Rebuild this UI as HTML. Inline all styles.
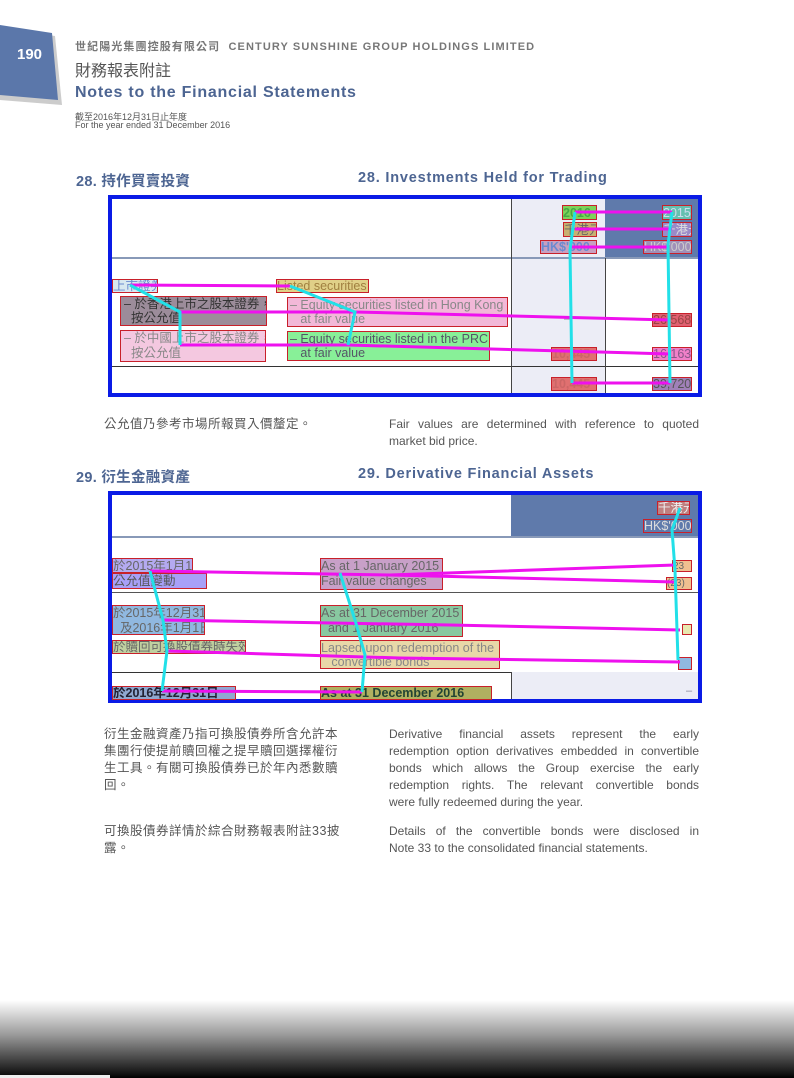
<!DOCTYPE html>
<html><head><meta charset="utf-8"><style>
body{margin:0;width:794px;height:1078px;position:relative;overflow:hidden;background:#fff;font-family:"Liberation Sans","Noto Sans CJK TC",sans-serif;}
.t{position:absolute;white-space:nowrap;}
.b{position:absolute;border:1px solid #c8202a;box-sizing:border-box;font-size:12.5px;line-height:15px;color:#666;white-space:nowrap;overflow:hidden;}
.h{font-weight:bold;color:#4d6592;font-size:14.5px;letter-spacing:0.3px;}
.p{position:absolute;font-size:12px;color:#555;line-height:17px;text-align:justify;text-align-last:justify;width:310px;white-space:nowrap;}
.q{position:absolute;font-size:12px;color:#555;line-height:17px;white-space:nowrap;}
.c{position:absolute;font-size:12.5px;color:#555;line-height:17px;letter-spacing:0.5px;}
</style></head><body>
<svg style="position:absolute;left:0;top:0" width="80" height="120">
<polygon points="0,28 55,36 62,105 0,100" fill="#999" opacity="0.5"/>
<polygon points="0,25 52,33 58,100 0,95" fill="#5b77aa"/>
</svg>
<div class="t" style="left:17px;top:46px;color:#fff;font-weight:bold;font-size:15px">190</div>
<div class="t" style="left:75px;top:38px;font-size:11px;color:#777;font-weight:bold;letter-spacing:1.1px">世紀陽光集團控股有限公司&nbsp; CENTURY SUNSHINE GROUP HOLDINGS LIMITED</div>
<div class="t" style="left:75px;top:62px;font-size:16px;color:#555;line-height:20px">財務報表附註</div>
<div class="t" style="left:75px;top:84px;font-size:16px;color:#4d6592;font-weight:bold;letter-spacing:0.75px">Notes to the Financial Statements</div>
<div class="t" style="left:75px;top:110px;font-size:9px;color:#555">截至2016年12月31日止年度</div>
<div class="t" style="left:75px;top:120px;font-size:9px;color:#555">For the year ended 31 December 2016</div>

<div class="t h" style="left:76px;top:170px">28. 持作買賣投資</div>
<div class="t h" style="left:358px;top:170px;letter-spacing:0.8px">28. Investments Held for Trading</div>

<div style="position:absolute;left:511px;top:197px;width:94px;height:198px;background:#ecedf6"></div>
<div style="position:absolute;left:605px;top:197px;width:95px;height:61px;background:#5f7aab"></div>
<div style="position:absolute;left:110px;top:257px;width:590px;height:2px;background:#8899b8"></div>
<div style="position:absolute;left:110px;top:366px;width:590px;height:1px;background:#333"></div>
<div style="position:absolute;left:511px;top:197px;width:1px;height:198px;background:#444"></div>
<div style="position:absolute;left:605px;top:258px;width:1px;height:137px;background:#444"></div>
<div style="position:absolute;left:108px;top:195px;width:594px;height:202px;border:4px solid #0a1be6;box-sizing:border-box"></div>

<div class="b" style="left:562px;top:205px;width:35px;height:15px;background:#7ed25a;color:#4a4;font-weight:bold">2016</div>
<div class="b" style="left:662px;top:205px;width:30px;height:15px;background:#66c0b0;color:#cde">2015</div>
<div class="b" style="left:563px;top:222px;width:34px;height:15px;background:#c8b070">千港元</div>
<div class="b" style="left:662px;top:222px;width:30px;height:15px;background:#9a8ac8;color:#ddd">千港元</div>
<div class="b" style="left:540px;top:240px;width:57px;height:14px;background:#c8a0c0;color:#6a8ad0;font-weight:bold;line-height:13px">HK$'000</div>
<div class="b" style="left:643px;top:240px;width:49px;height:14px;background:#a090b8;color:#ccc;line-height:13px">HK$'000</div>
<div class="b" style="left:112px;top:279px;width:46px;height:14px;background:#d8e8f0;color:#6a8ad0;line-height:13px">上市證券</div>
<div class="b" style="left:276px;top:279px;width:93px;height:14px;background:#e0d088;color:#a08040;line-height:13px">Listed securities</div>
<div class="b" style="left:120px;top:296px;width:147px;height:30px;background:#9c8c9a;color:#333;padding-left:3px;line-height:14px">– 於香港上市之股本證券，<br>&nbsp;&nbsp;按公允值</div>
<div class="b" style="left:287px;top:297px;width:221px;height:30px;background:#f2b8d8;color:#888;padding-left:2px;line-height:14px">– Equity securities listed in Hong Kong<br>&nbsp;&nbsp;&nbsp;at fair value</div>
<div class="b" style="left:120px;top:330px;width:146px;height:32px;background:#f4c8e0;color:#888;padding-left:3px">– 於中國上市之股本證券，<br>&nbsp;&nbsp;按公允值</div>
<div class="b" style="left:287px;top:331px;width:203px;height:30px;background:#88f098;color:#556;padding-left:2px;line-height:14px">– Equity securities listed in the PRC<br>&nbsp;&nbsp;&nbsp;at fair value</div>
<div class="t" style="left:564px;top:313px;font-size:11px;color:#889">–</div>
<div class="b" style="left:652px;top:313px;width:40px;height:14px;background:#e06070;color:#944;line-height:13px">26,568</div>
<div class="b" style="left:551px;top:347px;width:46px;height:14px;background:#e07070;color:#c66;font-weight:bold;line-height:13px">10,445</div>
<div class="b" style="left:652px;top:347px;width:40px;height:14px;background:#f080c8;color:#858;line-height:13px">16,163</div>
<div class="b" style="left:551px;top:377px;width:46px;height:14px;background:#e07070;color:#c66;font-weight:bold;line-height:13px">10,445</div>
<div class="b" style="left:652px;top:377px;width:40px;height:14px;background:#a080b8;color:#555;line-height:13px">39,720</div>

<div class="c" style="left:104px;top:416px">公允值乃參考市場所報買入價釐定。</div>
<div class="p" style="left:389px;top:416px">Fair values are determined with reference to quoted</div>
<div class="q" style="left:389px;top:433px">market bid price.</div>

<div class="t h" style="left:76px;top:466px">29. 衍生金融資產</div>
<div class="t h" style="left:358px;top:466px;letter-spacing:0.8px">29. Derivative Financial Assets</div>

<div style="position:absolute;left:511px;top:493px;width:189px;height:44px;background:#5f7aab"></div>
<div style="position:absolute;left:110px;top:536px;width:590px;height:2px;background:#8899b8"></div>
<div style="position:absolute;left:110px;top:592px;width:590px;height:1px;background:#555"></div>
<div style="position:absolute;left:110px;top:672px;width:401px;height:1px;background:#333"></div>
<div style="position:absolute;left:511px;top:672px;width:189px;height:29px;background:#ecedf6"></div>
<div style="position:absolute;left:511px;top:672px;width:1px;height:29px;background:#444"></div>
<div style="position:absolute;left:108px;top:491px;width:594px;height:212px;border:4px solid #0a1be6;box-sizing:border-box"></div>

<div class="b" style="left:657px;top:501px;width:33px;height:14px;background:#c08080;color:#eee;line-height:13px">千港元</div>
<div class="b" style="left:643px;top:519px;width:49px;height:14px;background:#5f7aab;color:#ddd;line-height:13px">HK$'000</div>
<div class="b" style="left:112px;top:558px;width:81px;height:15px;background:#b4aaf0;color:#666;line-height:14px">於2015年1月1日</div>
<div class="b" style="left:112px;top:573px;width:95px;height:16px;background:#a8a0f8;color:#555">公允值變動</div>
<div class="b" style="left:320px;top:558px;width:123px;height:32px;background:#c8a0c8;color:#666;line-height:15px">As at 1 January 2015<br>Fair value changes</div>
<div class="b" style="left:672px;top:560px;width:20px;height:12px;background:#f0c090;font-size:10px;line-height:11px">23</div>
<div class="b" style="left:666px;top:577px;width:26px;height:13px;background:#f0c090;font-size:10px;line-height:12px">(23)</div>
<div class="b" style="left:112px;top:605px;width:93px;height:30px;background:#90b8e0;color:#666;line-height:15px">於2015年12月31日<br>&nbsp;&nbsp;及2016年1月1日</div>
<div class="b" style="left:320px;top:605px;width:143px;height:32px;background:#88c8a0;color:#666;line-height:15px">As at 31 December 2015<br>&nbsp;&nbsp;and 1 January 2016</div>
<div class="b" style="left:682px;top:624px;width:10px;height:11px;background:#e8e8b0"></div>
<div class="b" style="left:112px;top:640px;width:134px;height:14px;background:#c0d0a0;color:#666;line-height:13px">於贖回可換股債券時失效</div>
<div class="b" style="left:320px;top:640px;width:180px;height:29px;background:#e8d8a8;color:#888;line-height:14px">Lapsed upon redemption of the<br>&nbsp;&nbsp;&nbsp;convertible bonds</div>
<div class="b" style="left:678px;top:657px;width:14px;height:13px;background:#90b8e0"></div>
<div class="b" style="left:112px;top:686px;width:124px;height:14px;background:#90a8d0;color:#223;font-weight:bold;line-height:13px">於2016年12月31日</div>
<div class="b" style="left:320px;top:686px;width:172px;height:14px;background:#b0b060;color:#243;font-weight:bold;line-height:13px">As at 31 December 2016</div>
<div class="t" style="left:686px;top:685px;font-size:11px;color:#889">–</div>

<svg style="position:absolute;left:0;top:0" width="794" height="1078">
<g stroke="#ee11ee" stroke-width="3" fill="none">
<line x1="575" y1="212" x2="672" y2="212"/><line x1="575" y1="229" x2="672" y2="229"/><line x1="570" y1="247" x2="668" y2="247"/><line x1="572" y1="383" x2="670" y2="383"/>
<polyline points="130,285 290,286"/>
<polyline points="180,312 355,312 670,320"/>
<polyline points="180,345 348,345 670,354"/>
<polyline points="150,571 390,575 675,565"/>
<polyline points="390,575 675,582"/>
<polyline points="163,620 450,625 680,630"/>
<polyline points="167,651 400,658 680,662"/>
<polyline points="162,691 362,692"/>
</g>
<g stroke="#22e0e8" stroke-width="3" fill="none">
<polyline points="575,212 570,250 572,383"/>
<polyline points="672,212 668,245 670,383"/>
<polyline points="130,285 180,312 180,345"/>
<polyline points="290,286 355,312 348,345"/>
<polyline points="150,571 163,620 167,651 162,691"/>
<polyline points="340,573 355,620 365,655 362,692"/>
<polyline points="680,508 672,530 675,570 678,660"/>
</g>
</svg>

<div class="c" style="left:104px;top:726px">衍生金融資產乃指可換股債券所含允許本<br>集團行使提前贖回權之提早贖回選擇權衍<br>生工具。有關可換股債券已於年內悉數贖<br>回。</div>
<div class="p" style="left:389px;top:726px">Derivative financial assets represent the early</div>
<div class="p" style="left:389px;top:743px">redemption option derivatives embedded in convertible</div>
<div class="p" style="left:389px;top:760px">bonds which allows the Group exercise the early</div>
<div class="p" style="left:389px;top:777px">redemption rights. The relevant convertible bonds</div>
<div class="q" style="left:389px;top:794px">were fully redeemed during the year.</div>
<div class="c" style="left:104px;top:823px">可換股債券詳情於綜合財務報表附註33披<br>露。</div>
<div class="p" style="left:389px;top:823px">Details of the convertible bonds were disclosed in</div>
<div class="q" style="left:389px;top:840px">Note 33 to the consolidated financial statements.</div>

<div style="position:absolute;left:0;top:1000px;width:794px;height:78px;background:linear-gradient(#fff,#999 45%,#111 95%,#000)"></div>
<div style="position:absolute;left:0;top:1075px;width:110px;height:3px;background:#eee"></div>
</body></html>
